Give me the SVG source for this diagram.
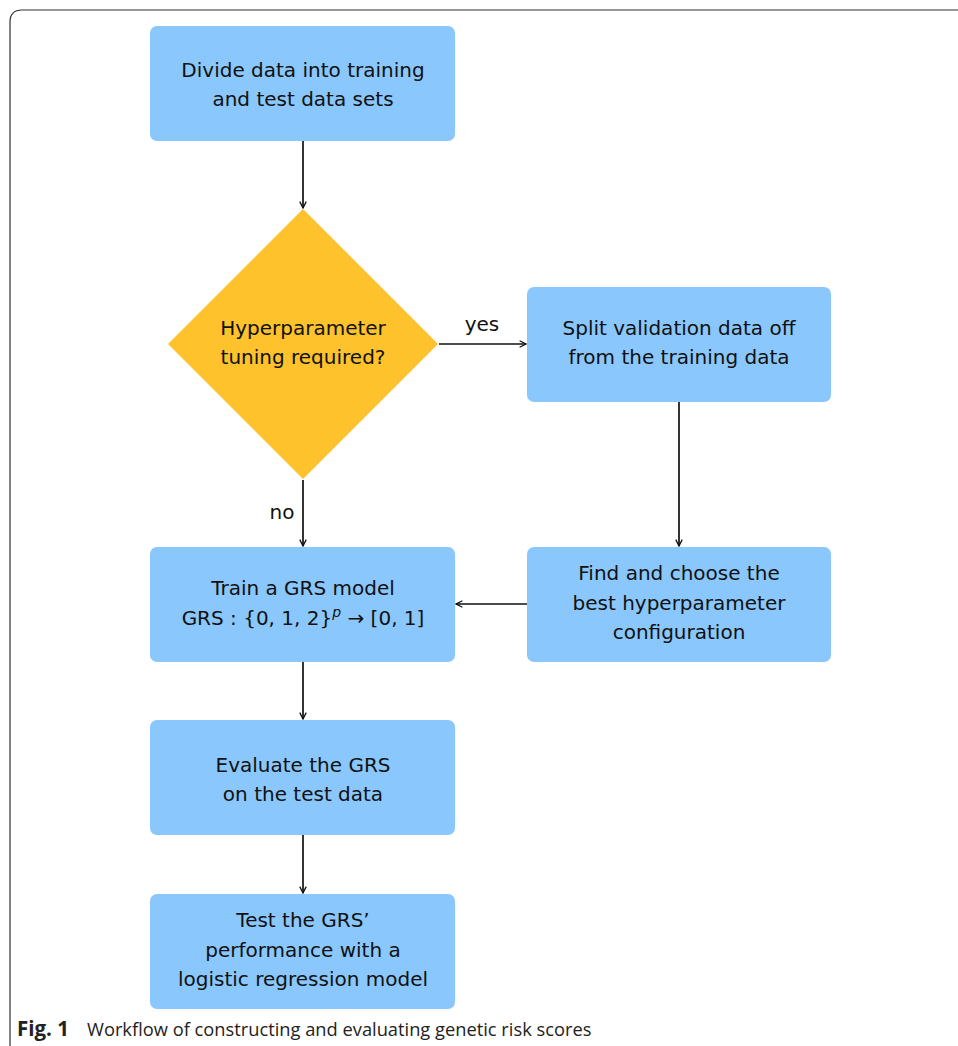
<svg xmlns="http://www.w3.org/2000/svg" width="958" height="1046" viewBox="0 0 958 1046">
  <style>
    .box { fill: #89c7fd; }
    .dec { fill: #fdc22c; }
    .lbl { font-family: "DejaVu Sans", "Liberation Sans", sans-serif; font-size: 20px; fill: #111; text-anchor: middle; }
    .edge { stroke: #111; stroke-width: 1.7; fill: none; marker-end: url(#arrow); }
    .cap { font-family: "Open Sans", "Liberation Sans", sans-serif; font-size: 18.3px; fill: #222; }
  </style>
  <defs>
    <marker id="arrow" viewBox="0 0 10 10" refX="9" refY="5" markerWidth="8" markerHeight="8" orient="auto" markerUnits="userSpaceOnUse">
      <path d="M1,1 L9,5 L1,9" fill="none" stroke="#111" stroke-width="1.6"/>
    </marker>
  </defs>

  <rect width="958" height="1046" fill="#fff"/>
  <!-- panel frame -->
  <path d="M10,1046 L10,22 Q10,10 22,10 L958,10" fill="none" stroke="#333" stroke-width="1.2"/>

  <g id="connectors">
    <line class="edge" x1="303" y1="141" x2="303" y2="208"/>
    <line class="edge" x1="439" y1="344" x2="526" y2="344"/>
    <line class="edge" x1="303" y1="480" x2="303" y2="546"/>
    <line class="edge" x1="679" y1="402" x2="679" y2="546"/>
    <line class="edge" x1="527" y1="604" x2="456" y2="604"/>
    <line class="edge" x1="303" y1="662" x2="303" y2="719"/>
    <line class="edge" x1="303" y1="835" x2="303" y2="893"/>
    <text class="lbl" x="482" y="331">yes</text>
    <text class="lbl" x="282" y="519">no</text>
  </g>

  <g id="divide">
    <rect class="box" x="150" y="26" width="305" height="115" rx="7"/>
    <text class="lbl" x="303" y="77">Divide data into training</text>
    <text class="lbl" x="303" y="106">and test data sets</text>
  </g>

  <g id="tuning">
    <polygon class="dec" points="303,209 438,344 303,479 168,344"/>
    <text class="lbl" x="303" y="335">Hyperparameter</text>
    <text class="lbl" x="303" y="364">tuning required?</text>
  </g>

  <g id="split">
    <rect class="box" x="527" y="287" width="304" height="115" rx="7"/>
    <text class="lbl" x="679" y="335">Split validation data off</text>
    <text class="lbl" x="679" y="364">from the training data</text>
  </g>

  <g id="train">
    <rect class="box" x="150" y="547" width="305" height="115" rx="7"/>
    <text class="lbl" x="303" y="595">Train a GRS model</text>
    <text class="lbl" x="303" y="625">GRS : {0, 1, 2}<tspan font-style="italic" font-size="14" dy="-8">p</tspan><tspan dy="8"> → [0, 1]</tspan></text>
  </g>

  <g id="find">
    <rect class="box" x="527" y="547" width="304" height="115" rx="7"/>
    <text class="lbl" x="679" y="580">Find and choose the</text>
    <text class="lbl" x="679" y="610">best hyperparameter</text>
    <text class="lbl" x="679" y="639">configuration</text>
  </g>

  <g id="evaluate">
    <rect class="box" x="150" y="720" width="305" height="115" rx="7"/>
    <text class="lbl" x="303" y="772">Evaluate the GRS</text>
    <text class="lbl" x="303" y="801">on the test data</text>
  </g>

  <g id="test">
    <rect class="box" x="150" y="894" width="305" height="115" rx="7"/>
    <text class="lbl" x="303" y="927">Test the GRS’</text>
    <text class="lbl" x="303" y="957">performance with a</text>
    <text class="lbl" x="303" y="986">logistic regression model</text>
  </g>

  <text class="cap" x="17" y="1036"><tspan font-weight="bold" font-size="20.5">Fig. 1</tspan><tspan x="87">Workflow of constructing and evaluating genetic risk scores</tspan></text>
</svg>
